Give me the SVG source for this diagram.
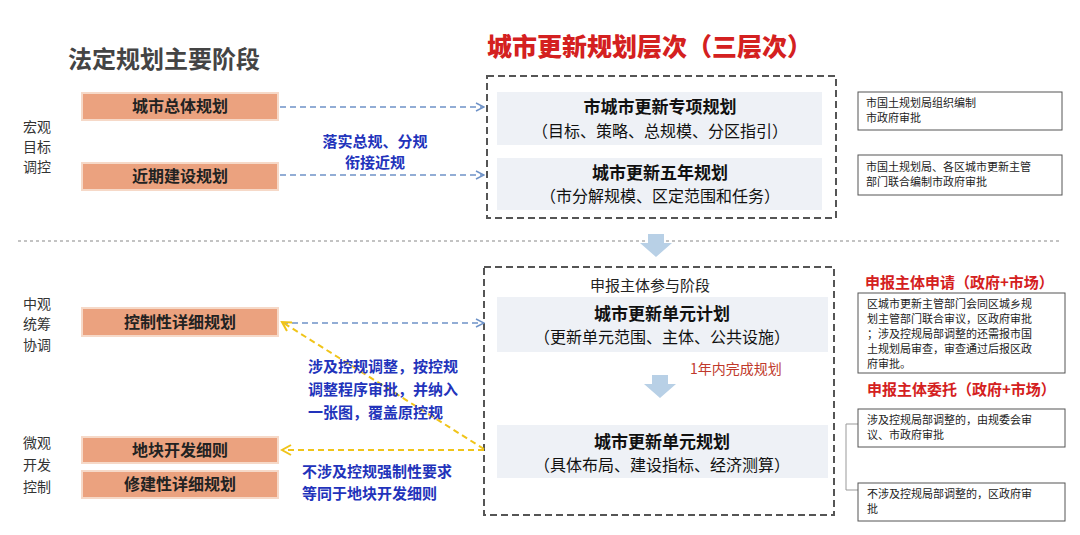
<svg xmlns="http://www.w3.org/2000/svg" width="1080" height="535" viewBox="0 0 1080 535">
<style>
text{font-family:"Noto Sans CJK SC","Noto Sans",sans-serif}
.org{fill:#eba27f;stroke:#f6d9c8;stroke-width:2}
.ot{font-size:16px;font-weight:bold;fill:#222;text-anchor:middle}
.side{font-size:14px;fill:#333;text-anchor:middle}
.inn{fill:#eef1f6}
.it{font-size:16px;fill:#111;text-anchor:middle}
.ib{font-size:17px;font-weight:bold;fill:#111;text-anchor:middle}
.dbox{fill:none;stroke:#555;stroke-width:2;stroke-dasharray:7,4}
.rbox{fill:#fff;stroke:#555;stroke-width:1}
.rt{font-size:11px;fill:#222}
.blue{font-size:15px;font-weight:bold;fill:#2233bb}
.red{font-size:15px;font-weight:bold;fill:#d42020}
.bl{stroke:#6f93c8;stroke-width:1.5;stroke-dasharray:6,4;fill:none}
.yl{stroke:#f0c419;stroke-width:2;stroke-dasharray:6,4;fill:none}
</style>
<defs>
<marker id="ab" markerWidth="10" markerHeight="10" refX="9" refY="5" orient="auto" markerUnits="userSpaceOnUse"><path d="M1,1 L9,5 L1,9" fill="none" stroke="#6f93c8" stroke-width="1.5"/></marker>
<marker id="ay" markerWidth="12" markerHeight="12" refX="10" refY="6" orient="auto" markerUnits="userSpaceOnUse"><path d="M1,1 L10,6 L1,11" fill="none" stroke="#f0c419" stroke-width="2"/></marker>
</defs>
<rect width="1080" height="535" fill="#fff"/>
<text x="68" y="68" font-size="24" font-weight="bold" fill="#444">法定规划主要阶段</text>
<text x="487" y="56" font-size="25" font-weight="900" fill="#d42020">城市更新规划层次（三层次）</text>
<g id="side-labels">
<text class="side" x="37" y="132">宏观</text><text class="side" x="37" y="152">目标</text><text class="side" x="37" y="172">调控</text>
<text class="side" x="37" y="309">中观</text><text class="side" x="37" y="329">统筹</text><text class="side" x="37" y="350">协调</text>
<text class="side" x="37" y="448">微观</text><text class="side" x="37" y="470">开发</text><text class="side" x="37" y="492">控制</text>
</g>
<g id="n-ztgh"><rect class="org" x="82" y="93" width="196" height="27"/><text class="ot" x="180" y="112">城市总体规划</text></g>
<g id="n-jqjs"><rect class="org" x="82" y="163" width="196" height="27"/><text class="ot" x="180" y="182">近期建设规划</text></g>
<g id="n-kzx"><rect class="org" x="82" y="308" width="196" height="28"/><text class="ot" x="180" y="328">控制性详细规划</text></g>
<g id="n-dk"><rect class="org" x="82" y="437" width="196" height="26"/><text class="ot" x="180" y="456">地块开发细则</text></g>
<g id="n-xjx"><rect class="org" x="82" y="471" width="196" height="27"/><text class="ot" x="180" y="490">修建性详细规划</text></g>
<rect class="dbox" x="487" y="76" width="349" height="142"/>
<rect class="dbox" x="484" y="267" width="350" height="248"/>
<g id="n-zx"><rect class="inn" x="497" y="92" width="325" height="53"/><text class="ib" x="660" y="113">市城市更新专项规划</text><text class="it" x="660" y="137">（目标、策略、总规模、分区指引）</text></g>
<g id="n-wn"><rect class="inn" x="497" y="158" width="325" height="52"/><text class="ib" x="660" y="179">城市更新五年规划</text><text class="it" x="660" y="202">（市分解规模、区定范围和任务）</text></g>
<text x="590" y="291" font-size="15" fill="#222">申报主体参与阶段</text>
<g id="n-dyjh"><rect class="inn" x="497" y="297" width="331" height="55"/><text class="ib" x="662" y="320">城市更新单元计划</text><text class="it" x="662" y="343">（更新单元范围、主体、公共设施）</text></g>
<text x="690" y="374" font-size="14" fill="#c0392b">1年内完成规划</text>
<g id="n-dygh"><rect class="inn" x="497" y="425" width="331" height="53"/><text class="ib" x="662" y="448">城市更新单元规划</text><text class="it" x="662" y="471">（具体布局、建设指标、经济测算）</text></g>
<line x1="18" y1="241" x2="1062" y2="241" stroke="#888" stroke-width="1.2" stroke-dasharray="3,3"/>
<path d="M648,234 h16 v9 h8 l-16,14 l-16,-14 h8z" fill="#b8d0e6"/>
<path d="M652,375 h16 v9 h8 l-16,14 l-16,-14 h8z" fill="#b8d0e6"/>
<g id="connectors">
<line class="bl" x1="280" y1="107" x2="484" y2="107" marker-end="url(#ab)"/>
<line class="bl" x1="280" y1="175" x2="484" y2="175" marker-end="url(#ab)"/>
<line class="bl" x1="282" y1="323" x2="484" y2="323" marker-end="url(#ab)"/>
<line class="yl" x1="484" y1="449" x2="282" y2="322" marker-end="url(#ay)"/>
<line class="yl" x1="484" y1="450" x2="282" y2="450" marker-end="url(#ay)"/>
<path d="M858,424 H846 V490 H858" fill="none" stroke="#999" stroke-width="1"/>
</g>
<text class="blue" x="375" y="147" text-anchor="middle">落实总规、分规</text>
<text class="blue" x="375" y="168" text-anchor="middle">衔接近规</text>
<text class="blue" x="308" y="372">涉及控规调整，按控规</text>
<text class="blue" x="308" y="395">调整程序审批，并纳入</text>
<text class="blue" x="308" y="418">一张图，覆盖原控规</text>
<text class="blue" x="302" y="477">不涉及控规强制性要求</text>
<text class="blue" x="302" y="499">等同于地块开发细则</text>
<g id="r1"><rect class="rbox" x="858" y="92" width="204" height="38"/><text class="rt" x="866" y="107">市国土规划局组织编制</text><text class="rt" x="866" y="122">市政府审批</text></g>
<g id="r2"><rect class="rbox" x="858" y="155" width="204" height="40"/><text class="rt" x="866" y="171">市国土规划局、各区城市更新主管</text><text class="rt" x="866" y="186">部门联合编制市政府审批</text></g>
<text class="red" x="865" y="288">申报主体申请（政府+市场）</text>
<g id="r3"><rect class="rbox" x="858" y="293" width="207" height="80"/>
<text class="rt" x="867" y="308">区城市更新主管部门会同区城乡规</text><text class="rt" x="867" y="323">划主管部门联合审议，区政府审批</text><text class="rt" x="867" y="338">；涉及控规局部调整的还需报市国</text><text class="rt" x="867" y="353">土规划局审查，审查通过后报区政</text><text class="rt" x="867" y="368">府审批。</text></g>
<text class="red" x="867" y="395">申报主体委托（政府+市场）</text>
<g id="r4"><rect class="rbox" x="858" y="409" width="207" height="38"/><text class="rt" x="867" y="424">涉及控规局部调整的，由规委会审</text><text class="rt" x="867" y="439">议、市政府审批</text></g>
<g id="r5"><rect class="rbox" x="858" y="483" width="207" height="38"/><text class="rt" x="867" y="498">不涉及控规局部调整的，区政府审</text><text class="rt" x="867" y="513">批</text></g>
</svg>
